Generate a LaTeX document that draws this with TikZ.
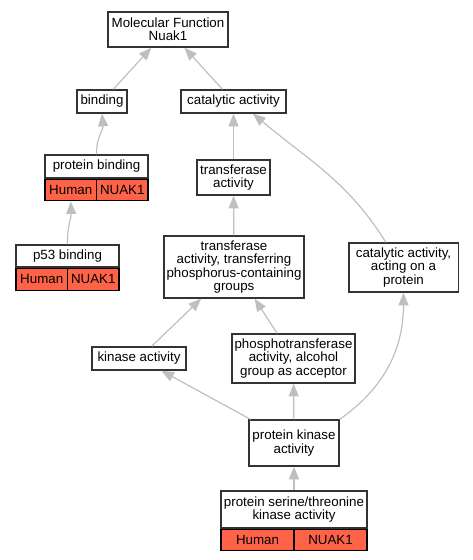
\documentclass[tikz,border=0pt]{standalone}
\usepackage{fontspec}
\setmainfont{Liberation Sans}
\usetikzlibrary{arrows.meta, positioning}
\definecolor{hit}{RGB}{255,99,71}
\tikzstyle{term} = [rectangle, draw=black!80, line width=1pt, fill=white, align=center, inner sep=1pt, font=\fontsize{10}{10}\selectfont]
\tikzstyle{cell} = [rectangle, draw=black, line width=1pt, fill=hit, inner sep=1pt, font=\fontsize{10}{10}\selectfont]
\tikzstyle{isa} = [draw=black!25, line width=0.9pt, -{Triangle[length=9.5pt,width=7.5pt]}]

\begin{document}
\begin{tikzpicture}[x=0.75pt, y=-0.75pt]
\useasboundingbox (0,0) rectangle (472,560);
% Top
\node (mf) [term, minimum width=90pt, minimum height=26.25pt] at (168,29.5) {Molecular Function\\Nuak1};
\node (bind) [term, minimum width=37.5pt, minimum height=17.25pt] at (102,101.5) {binding};
\node (cat) [term, minimum width=78.75pt, minimum height=17.25pt] at (233.5,101.5) {catalytic activity};
% Binding branch
\node (pb) [term, minimum width=77.25pt, minimum height=17.25pt] at (96.5,166.5) {protein binding};
\node (pbh) [cell, minimum width=38.6pt, minimum height=16pt, below right=0pt of pb.south west] {Human};
\node (pbn) [cell, minimum width=38.6pt, minimum height=16pt, below left=0pt of pb.south east] {NUAK1};
\node (p53) [term, minimum width=77.25pt, minimum height=16.5pt] at (67.5,256) {p53 binding};
\node (p53h) [cell, minimum width=38.6pt, minimum height=16.5pt, below right=0pt of p53.south west] {Human};
\node (p53n) [cell, minimum width=38.6pt, minimum height=16.5pt, below left=0pt of p53.south east] {NUAK1};
% Catalytic branch
\node (tr) [term, minimum width=54.75pt, minimum height=26.25pt] at (233.5,177.5) {transferase\\activity};
\node (trp) [term, minimum width=105pt, minimum height=46.5pt] at (234,267) {transferase\\activity, transferring\\phosphorus-containing\\groups};
\node (cap) [term, minimum width=82pt, minimum height=36.75pt] at (403.5,267.5) {catalytic activity,\\acting on a\\protein};
\node (kin) [term, minimum width=70.5pt, minimum height=17.25pt] at (139,358.5) {kinase activity};
\node (pho) [term, minimum width=92.25pt, minimum height=36.75pt] at (293.5,358.5) {phosphotransferase\\activity, alcohol\\group as acceptor};
\node (pk) [term, minimum width=67.5pt, minimum height=34.5pt] at (294,443) {protein kinase\\activity};
\node (pst) [term, minimum width=109.5pt, minimum height=27.75pt] at (294,509.5) {protein serine/threonine\\kinase activity};
\node (psth) [cell, minimum width=54.75pt, minimum height=16pt, below right=0pt of pst.south west] {Human};
\node (pstn) [cell, minimum width=54.75pt, minimum height=16pt, below left=0pt of pst.south east] {NUAK1};

% Arrows
\draw [isa] (bind) -- (mf);
\draw [isa] (cat) -- (mf);
\draw [isa] (pb.north) to[out=92, in=-85] (bind.south);
\draw [isa] (p53.north) to[out=92, in=-88] (pbh.south);
\draw [isa] (tr) -- (cat);
\draw [isa] (cap.125) to[out=122, in=-40] (cat.-32);
\draw [isa] (trp) -- (tr);
\draw [isa] (kin) -- (trp);
\draw [isa] (pho) -- (trp);
\draw [isa] (pk) -- (kin);
\draw [isa] (pk) -- (pho);
\draw [isa] (pk.north east) to[out=35, in=-90] (cap.south);
\draw [isa] (pst) -- (pk);
\end{tikzpicture}
\end{document}
